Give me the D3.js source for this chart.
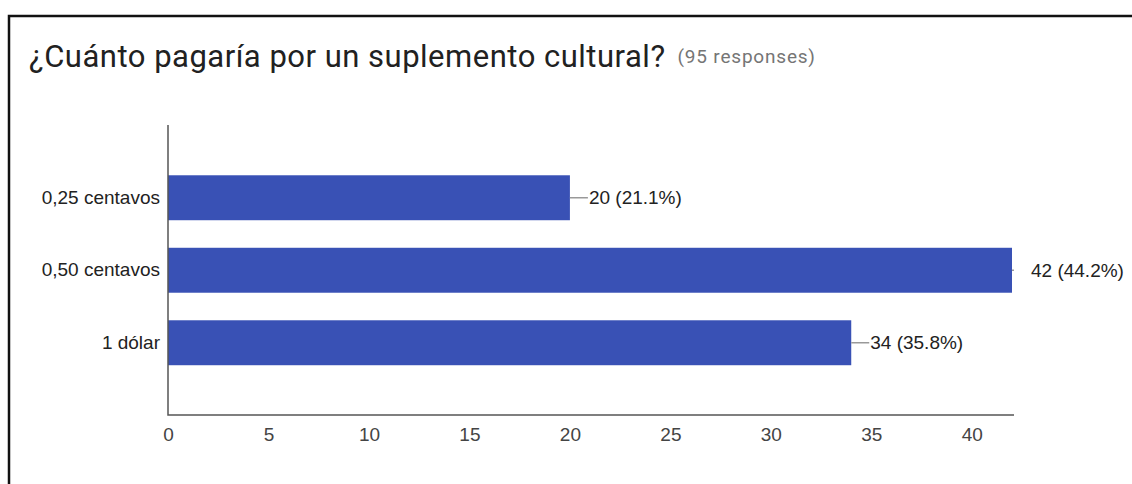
<!DOCTYPE html>
<html>
<head>
<meta charset="utf-8">
<script src="https://cdn.jsdelivr.net/npm/d3@7"></script>
<style>
  body { margin: 0; background: #fff; }
</style>
</head>
<body>
<div id="chart"></div>
<script>
// data
const categories = ['0,25 centavos', '0,50 centavos', '1 dólar'];
const counts = [20, 42, 34];
const percents = ['21.1%', '44.2%', '35.8%'];
const xTicks = [0, 5, 10, 15, 20, 25, 30, 35, 40];
const totalResponses = 95;

const width = 1132, height = 484;
const plot = {left: 168, right: 1014, top: 125, bottom: 415};
const labelFont = '"Liberation Sans", Arial, sans-serif';

const svg = d3.select('#chart').append('svg')
  .attr('width', width)
  .attr('height', height);

// frame (screenshot border)
svg.append('path')
  .attr('d', 'M9,' + height + 'V16H' + width)
  .style('fill', 'none')
  .style('stroke', '#111')
  .style('stroke-width', 2.5);

// title
let title = svg.append('text')
  .attr('x', 29)
  .attr('y', 67)
  .style('font-family', 'Roboto, Arial, sans-serif')
  .style('font-size', '31px')
  .style('letter-spacing', '0.5px')
  .style('fill', '#212121');
title.append('tspan').text('¿Cuánto pagaría por un suplemento cultural?');
title.append('tspan')
  .attr('dx', 12)
  .attr('dy', -4)
  .style('font-size', '19px')
  .style('letter-spacing', '0.8px')
  .style('fill', '#757575')
  .text('(' + totalResponses + ' responses)');

// scales
let x = d3.scaleLinear()
  .domain([0, 42])
  .range([plot.left, plot.left + 844]);
let y = d3.scaleBand()
  .domain(categories)
  .range([161.5, 379])
  .paddingInner(0.38)
  .paddingOuter(0.19);

let rows = categories.map(function(d, i){
  return {cat: d, count: counts[i], pct: percents[i]};
});

// bars
svg.append('g').selectAll('rect')
  .data(rows).enter().append('rect')
  .attr('x', x(0))
  .attr('y', d => y(d.cat))
  .attr('width', d => x(d.count) - x(0))
  .attr('height', y.bandwidth())
  .style('fill', '#3951b5');

// axes lines
svg.append('path')
  .attr('d', 'M' + plot.left + ',' + plot.top + 'V' + plot.bottom + 'H' + plot.right)
  .style('fill', 'none')
  .style('stroke', '#555')
  .style('stroke-width', 1.5);

// x tick labels
let xAxis = d3.axisBottom(x).tickValues(xTicks).tickSize(0).tickPadding(13);
let gx = svg.append('g')
  .attr('transform', 'translate(0,' + plot.bottom + ')')
  .call(xAxis);
gx.select('.domain').remove();
gx.selectAll('text')
  .style('font-family', labelFont)
  .style('font-size', '19px')
  .style('fill', '#444');

// y labels
let yAxis = d3.axisLeft(y).tickSize(0).tickPadding(8);
let gy = svg.append('g')
  .attr('transform', 'translate(' + plot.left + ',0)')
  .call(yAxis);
gy.select('.domain').remove();
gy.selectAll('text')
  .style('font-family', labelFont)
  .style('font-size', '19px')
  .style('fill', '#222');

// value labels with leader lines (clipped at the plot edge)
let ann = svg.append('g').selectAll('.ann')
  .data(rows).enter().append('g')
  .attr('class', 'ann');
ann.append('line')
  .attr('x1', d => x(d.count))
  .attr('x2', d => Math.min(x(d.count) + 18, plot.right))
  .attr('y1', d => y(d.cat) + y.bandwidth() / 2)
  .attr('y2', d => y(d.cat) + y.bandwidth() / 2)
  .style('stroke', '#999')
  .style('stroke-width', 1.5);
ann.append('text')
  .attr('x', d => x(d.count) + 19)
  .attr('y', d => y(d.cat) + y.bandwidth() / 2)
  .attr('dy', '0.35em')
  .style('font-family', labelFont)
  .style('font-size', '19px')
  .style('fill', '#222')
  .text(d => d.count + ' (' + d.pct + ')');
</script>
</body>
</html>
